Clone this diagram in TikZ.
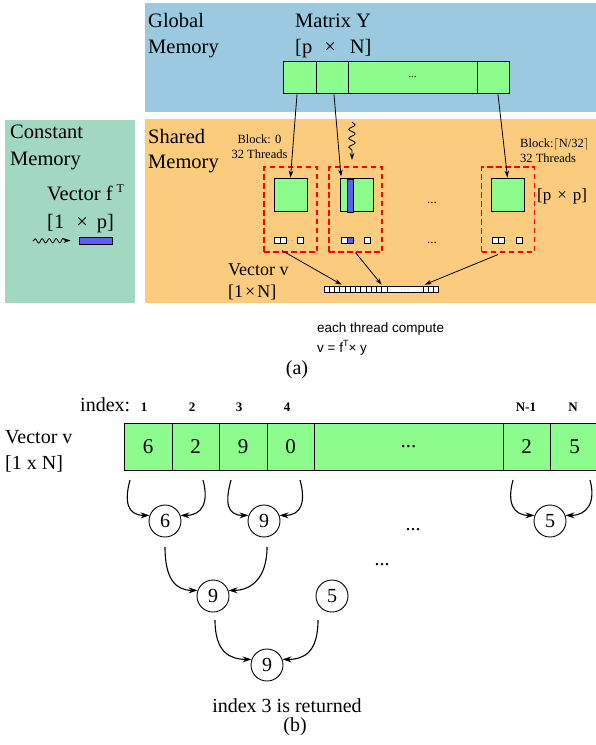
\documentclass[tikz,border=0pt]{standalone}
\usepackage{fontspec}
\setmainfont{Liberation Serif}
\newfontfamily\sansf{Liberation Sans}
\usetikzlibrary{arrows.meta,decorations.pathmorphing,calc}
\definecolor{gblue}{RGB}{155,201,224}
\definecolor{sorange}{RGB}{252,204,126}
\definecolor{cteal}{RGB}{162,216,194}
\definecolor{cellgreen}{RGB}{140,252,140}
\definecolor{stripe}{RGB}{95,95,235}
\tikzset{
  big/.style={font={\fontsize{20.5}{24}\selectfont}, anchor=base west, inner sep=0},
  mid/.style={font={\fontsize{18}{22}\selectfont}, anchor=base west, inner sep=0},
  sml/.style={font={\fontsize{12.5}{14}\selectfont}, anchor=base, inner sep=0},
  cell/.style={draw, fill=cellgreen, line width=0.9pt, inner sep=0, minimum height=32},
  blockbox/.style={draw=red, dash pattern=on 5.5pt off 3.5pt, line width=1.1pt, minimum width=53, minimum height=85, inner sep=0},
  sq/.style={draw, fill=cellgreen, line width=0.9pt, minimum size=33, inner sep=0},
  arr/.style={-{Stealth[length=7pt,width=4.5pt]}, line width=0.8pt},
  barr/.style={-{Stealth[length=9pt,width=6pt]}, line width=1.1pt},
  vcell/.style={draw, fill=cellgreen, line width=1pt, minimum height=47, inner sep=0, font={\fontsize{21}{24}\selectfont}},
  circ/.style={circle, draw, line width=0.9pt, minimum size=32, inner sep=0, font={\fontsize{20}{24}\selectfont}},
  idx/.style={font={\fontsize{13}{15}\selectfont\bfseries}, anchor=base, inner sep=0},
  tiny/.style={draw, fill=white, line width=0.6pt},
  wavy/.style={decorate, decoration={snake, amplitude=3.2pt, segment length=9pt, post length=6pt}}
}
\begin{document}
\begin{tikzpicture}[x=1pt,y=-1pt]
\useasboundingbox (0,0) rectangle (596,745);
\fill[white] (0,0) rectangle (596,745);
% ---------- panels (a)
\fill[gblue] (145,3) rectangle (597,112);
\fill[cteal] (5,120) rectangle (135,303);
\fill[sorange] (145,119) rectangle (597,303);

% global memory
\node[big] (glob1) at (148,27) {Global};
\node[big] (glob2) at (148,53) {Memory};
\node[big] (maty) at (295,27) {Matrix Y};
\node[big] (matdim) at (295,53) {[p\hspace{12pt}×\hspace{14pt}N]};
\node[cell, minimum width=33] (m1) at (299.5,77) {};
\node[cell, minimum width=32] (m2) at (332,77) {};
\node[cell, minimum width=129, font={\fontsize{11}{12}\selectfont}] (m3) at (412.5,77) {...};
\node[cell, minimum width=32] (m4) at (493,77) {};

% constant memory
\node[big] (const1) at (10,138) {Constant};
\node[big] (const2) at (10,165) {Memory};
\node[big] (vecf) at (47,200) {Vector f\hspace{4pt}\raisebox{8pt}{\fontsize{12}{12}\selectfont T}};
\node[big] (vecfdim) at (47,228) {[1\hspace{12pt}×\hspace{9pt}p]};
\coordinate (fw1) at (33,241);
\node[draw, fill=stripe, line width=0.7pt, minimum width=33, minimum height=7, inner sep=0] (fbar) at (95.5,240.5) {};
\draw[arr, decorate, decoration={snake, amplitude=2.2pt, segment length=7pt, post length=5pt}] (fw1) -- ($(fbar.west)+(-8,0)$);

% shared memory
\node[big] (sh1) at (148,143) {Shared};
\node[big] (sh2) at (148,168) {Memory};
\node[sml] (b0a) at (259.5,143) {Block: 0};
\node[sml] (b0b) at (259.5,158) {32 Threads};
\node[sml, anchor=base west] (bNa) at (520,147) {Block:\ensuremath{\lceil}N/32\ensuremath{\rceil}};
\node[sml, anchor=base west] (bNb) at (520,162) {32 Threads};

\node[blockbox] (blk0) at (290.5,209.5) {};
\node[blockbox] (blk1) at (355.5,209.5) {};
\node[blockbox] (blk2) at (508,209.5) {};
\node[sq] (sq0) at (290.5,194.5) {};
\node[sq] (sq1) at (357,194.5) {};
\node[sq] (sq2) at (507.5,194.5) {};
\filldraw[fill=stripe, line width=0.7pt] (347,179) rectangle (353,212);
\node[mid, font={\fontsize{17}{20}\selectfont}] (ppdim) at (537,200) {[p\hspace{6pt}×\hspace{6pt}p]};

% tiny thread squares
\foreach \xx in {274,280,297, 341,364, 492,498,516} {
  \draw[tiny] (\xx,237) rectangle ++(6,6);
}
\filldraw[fill=stripe, line width=0.6pt] (347,237) rectangle ++(6,6);
\foreach \xx in {288,292,355,359,507,511} {
  \fill[gray!70] (\xx,240.5) circle (0.6);
}
\node[sml, font={\fontsize{13}{14}\selectfont}] (dA) at (432,203) {...};
\node[sml, font={\fontsize{13}{14}\selectfont}] (dB) at (432,243) {...};

% wavy arrow to block 1
\coordinate (wv1) at (352,122);
\coordinate (wv2) at (352,160);
\draw[arr, wavy] (wv1) -- (wv2);

% matrix -> blocks
\draw[arr] ($(m1.south)+(-2.5,1)$) -- (sq0.north);
\draw[arr] ($(m2.south)+(2,1)$) -- ($(sq1.north west)+(1,-1)$);
\draw[arr] ($(m4.south)+(5,1)$) -- (sq2.north);

% vector v strip
\node[mid] (vv1) at (228,275) {Vector v};
\node[mid] (vv2) at (228,297) {[1\hspace{2pt}×\hspace{2pt}N]};
\node[draw, fill=white, line width=0.7pt, minimum width=114, minimum height=6, inner sep=0] (vv) at (381,289) {};
\foreach \i in {1,...,12} { \draw[line width=0.6pt] (324+\i*5.25,286) -- ++(0,6); }
\foreach \xx in {423,428,433} { \draw[line width=0.6pt] (\xx,286) -- ++(0,6); }
\foreach \xx in {402,405,408} { \fill[gray!70] (\xx,289) circle (0.6); }

\draw[arr] ($(blk0.south)+(-8.5,-2)$) -- ($(vv.north west)+(18,-1)$);
\draw[arr] ($(blk1.south)+(0,0)$) -- ($(vv.north west)+(58,-1)$);
\draw[arr] ($(blk2.south)+(-10,2)$) -- ($(vv.north west)+(101,-1)$);

\node[font={\sansf\fontsize{13.5}{16}\selectfont}, anchor=base west, inner sep=0] (each1) at (317,332) {each thread compute};
\node[font={\sansf\fontsize{13.5}{16}\selectfont}, anchor=base west, inner sep=0] (each2) at (317,352) {v = f\raisebox{6pt}{\fontsize{9}{9}\selectfont T}× y};
\node[font={\fontsize{20}{24}\selectfont}, anchor=base, inner sep=0] (capa) at (297,374) {(a)};

% ---------- panel (b)
\node[big, font={\fontsize{20}{24}\selectfont}] (index) at (80,411) {index:};
\node[idx] (i1) at (144,411) {1};
\node[idx] (i2) at (192,411) {2};
\node[idx] (i3) at (239,411) {3};
\node[idx] (i4) at (287,411) {4};
\node[idx] (iN1) at (526,411) {N-1};
\node[idx] (iN) at (573,411) {N};

\node[big, font={\fontsize{20}{24}\selectfont}] (bv1) at (5,443) {Vector v};
\node[big, font={\fontsize{20}{24}\selectfont}] (bv2) at (5,469) {[1 x N]};

\node[vcell, minimum width=48] (vc1) at (148,446.5) {6};
\node[vcell, minimum width=47] (vc2) at (195.5,446.5) {2};
\node[vcell, minimum width=48] (vc3) at (243,446.5) {9};
\node[vcell, minimum width=47] (vc4) at (290.5,446.5) {0};
\node[vcell, minimum width=189] (vc5) at (408.5,446.5) {...};
\node[vcell, minimum width=47] (vc6) at (526.5,446.5) {2};
\node[vcell, minimum width=49] (vc7) at (574.5,446.5) {5};

\node[circ] (c6) at (165,521) {6};
\node[circ] (c9a) at (264,521) {9};
\node[circ] (c5a) at (550,521) {5};
\node[circ] (c9b) at (213,596) {9};
\node[circ] (c5b) at (332,596) {5};
\node[circ] (c9c) at (267,665) {9};

\node[font={\fontsize{20}{24}\selectfont}, anchor=base, inner sep=0] (dots1) at (413,530) {...};
\node[font={\fontsize{20}{24}\selectfont}, anchor=base, inner sep=0] (dots2) at (382,565) {...};

\coordinate (s1) at (130,480);
\coordinate (s2) at (203,480);
\coordinate (s3) at (231,480);
\coordinate (s4) at (300,480);
\coordinate (s5) at (513,480);
\coordinate (s6) at (590,480);
\draw[barr] (s1) .. controls +(-6,22) and +(-22,0) .. (c6.160);
\draw[barr] (s2) .. controls +(6,22) and +(22,0) .. (c6.20);
\draw[barr] (s3) .. controls +(-6,22) and +(-22,0) .. (c9a.160);
\draw[barr] (s4) .. controls +(6,22) and +(22,0) .. (c9a.20);
\draw[barr] (s5) .. controls +(-6,22) and +(-22,0) .. (c5a.160);
\draw[barr] (s6) .. controls +(6,22) and +(22,0) .. (c5a.20);

\coordinate (r2a) at (165,547);
\coordinate (r2b) at (267,547);
\draw[barr] (r2a) .. controls +(0,32) and +(-22,0) .. (c9b.160);
\draw[barr] (r2b) .. controls +(0,32) and +(22,0) .. (c9b.20);

\coordinate (r3a) at (215,620);
\coordinate (r3b) at (318,620);
\draw[barr] (r3a) .. controls +(0,32) and +(-22,0) .. (c9c.160);
\draw[barr] (r3b) .. controls +(0,32) and +(22,0) .. (c9c.20);

\node[font={\fontsize{20}{24}\selectfont}, anchor=base, inner sep=0] (ret) at (287,712) {index 3 is returned};
\node[font={\fontsize{20}{24}\selectfont}, anchor=base, inner sep=0] (capb) at (295,731) {(b)};
\end{tikzpicture}
\end{document}
